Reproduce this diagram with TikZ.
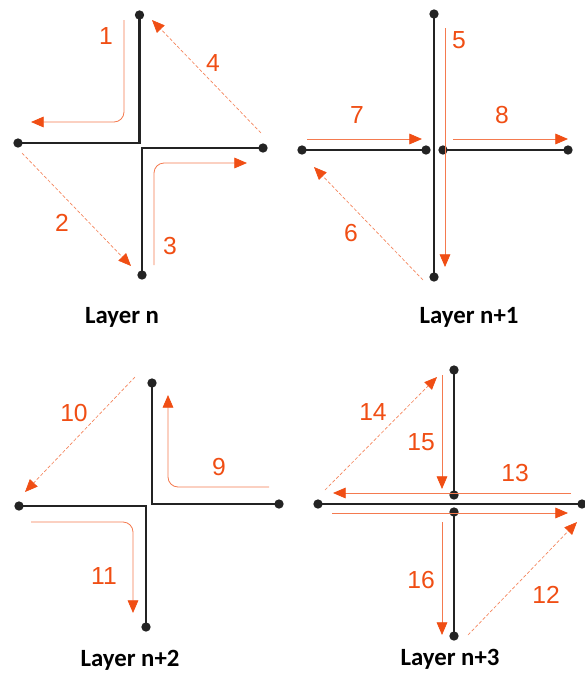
\documentclass[tikz,border=0pt]{standalone}
\usepackage{fontspec}
\setmainfont{Liberation Sans}
\newfontfamily\labelfont{Carlito}
\usetikzlibrary{arrows.meta}
\definecolor{orng}{RGB}{240,78,20}
\definecolor{blk}{RGB}{35,35,35}
\tikzset{
  dot/.style={circle,fill=blk,inner sep=0pt,minimum size=7pt},
  wire/.style={draw=blk,line width=1.7pt},
  flow/.style={draw=orng!75,line width=0.6pt,rounded corners=7.5pt,
    -{Triangle[length=9.5pt,width=8pt,fill=orng,color=orng]}},
  jump/.style={draw=orng!70,line width=0.5pt,dash pattern=on 2.5pt off 1.5pt,
    -{Triangle[length=9.5pt,width=8pt,fill=orng,color=orng]}},
  num/.style={text=orng,font=\fontsize{18.5}{20}\selectfont,inner sep=0pt},
  layer/.style={font=\labelfont\bfseries\fontsize{18.6}{20}\selectfont,anchor=base,inner sep=0pt}
}
\begin{document}
\begin{tikzpicture}[x=0.75pt,y=-0.75pt]
\useasboundingbox (0,0) rectangle (585,675);
% ---------- Layer n ----------
\node[dot] (t1) at (139.5,15) {};
\node[dot] (l1) at (18,143) {};
\node[dot] (r1) at (263,148) {};
\node[dot] (b1) at (142,275) {};
\draw[wire] (t1.center) |- (l1.center);
\draw[wire] (r1.center) -| (b1.center);
\coordinate (a1s) at (124,20);  \coordinate (a1e) at (31,122);
\coordinate (a3s) at (154,265); \coordinate (a3e) at (247,163);
\coordinate (d2s) at (22,153);  \coordinate (d2e) at (131,266);
\coordinate (d4s) at (261,133); \coordinate (d4e) at (152,20);
\draw[flow] (a1s) |- (a1e);
\draw[flow] (a3s) |- (a3e);
\draw[jump] (d2s) -- (d2e);
\draw[jump] (d4s) -- (d4e);
\node[num] (n1) at (106,36) {1};
\node[num] (n2) at (62,223) {2};
\node[num] (n3) at (170,246) {3};
\node[num] (n4) at (213,63) {4};
\node[layer] (L1) at (122,323) {Layer n};
% ---------- Layer n+1 ----------
\node[dot] (t2) at (434,14) {};
\node[dot] (b2) at (434,277) {};
\node[dot] (l2) at (302,150) {};
\node[dot] (ml2) at (426,150) {};
\node[dot] (mr2) at (443,150) {};
\node[dot] (r2) at (568,150) {};
\draw[wire] (t2.center) -- (b2.center);
\draw[wire] (l2.center) -- (ml2.center);
\draw[wire] (mr2.center) -- (r2.center);
\coordinate (a5s) at (445,28);  \coordinate (a5e) at (445,267);
\coordinate (a7s) at (307,139); \coordinate (a7e) at (422,139);
\coordinate (a8s) at (453,139); \coordinate (a8e) at (568,139);
\coordinate (d6s) at (423,280); \coordinate (d6e) at (314,167);
\draw[flow] (a5s) -- (a5e);
\draw[flow] (a7s) -- (a7e);
\draw[flow] (a8s) -- (a8e);
\draw[jump] (d6s) -- (d6e);
\node[num] (n5) at (459,40) {5};
\node[num] (n6) at (351,233) {6};
\node[num] (n7) at (357,115) {7};
\node[num] (n8) at (502,115) {8};
\node[layer] (L2) at (469,323) {Layer n+1};
% ---------- Layer n+2 ----------
\node[dot] (t3) at (152,383) {};
\node[dot] (r3) at (279,504) {};
\node[dot] (l3) at (19,506) {};
\node[dot] (b3) at (146,627) {};
\draw[wire] (t3.center) |- (r3.center);
\draw[wire] (l3.center) -| (b3.center);
\coordinate (a9s) at (269,487);  \coordinate (a9e) at (168,395);
\coordinate (a11s) at (31,522);  \coordinate (a11e) at (133,613);
\coordinate (d10s) at (135,377); \coordinate (d10e) at (25,492);
\draw[flow] (a9s) -| (a9e);
\draw[flow] (a11s) -| (a11e);
\draw[jump] (d10s) -- (d10e);
\node[num] (n9) at (219,467) {9};
\node[num] (n10) at (74,413) {10};
\node[num] (n11) at (104,576) {11};
\node[layer] (L3) at (130,666) {Layer n+2};
% ---------- Layer n+3 ----------
\node[dot] (t4) at (454,370) {};
\node[dot] (cu4) at (454,495) {};
\node[dot] (l4) at (318,504) {};
\node[dot] (r4) at (582,504) {};
\node[dot] (cl4) at (454,512) {};
\node[dot] (b4) at (454,636) {};
\draw[wire] (t4.center) -- (cu4.center);
\draw[wire] (l4.center) -- (r4.center);
\draw[wire] (cl4.center) -- (b4.center);
\coordinate (a15s) at (442,375); \coordinate (a15e) at (442,489);
\coordinate (a13s) at (571,493); \coordinate (a13e) at (333,493);
\coordinate (a12s) at (332,513); \coordinate (a12e) at (568,513);
\coordinate (a16s) at (442,522); \coordinate (a16e) at (442,635);
\coordinate (d14s) at (325,490); \coordinate (d14e) at (437,377);
\coordinate (d12s) at (468,635); \coordinate (d12e) at (577,522);
\draw[flow] (a15s) -- (a15e);
\draw[flow] (a13s) -- (a13e);
\draw[flow] (a12s) -- (a12e);
\draw[flow] (a16s) -- (a16e);
\draw[jump] (d14s) -- (d14e);
\draw[jump] (d12s) -- (d12e);
\node[num] (n12) at (546,595) {12};
\node[num] (n13) at (515,473) {13};
\node[num] (n14) at (373,412) {14};
\node[num] (n15) at (421,442) {15};
\node[num] (n16) at (421,580) {16};
\node[layer] (L4) at (450,665) {Layer n+3};
\end{tikzpicture}
\end{document}
